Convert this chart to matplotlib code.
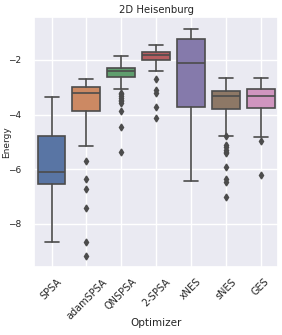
import matplotlib
matplotlib.use("Agg")
import matplotlib.pyplot as plt
import seaborn as sns

optimizers = ["SPSA", "adamSPSA", "QNSPSA", "2-SPSA", "xNES", "sNES", "GES"]

# box statistics
q1 = [-6.55, -3.87, -2.62, -2.01, -3.73, -3.79, -3.75]
med = [-6.10, -3.21, -2.41, -1.83, -2.12, -3.32, -3.31]
q3 = [-4.78, -2.99, -2.30, -1.72, -1.23, -3.14, -3.05]
whislo = [-8.68, -5.15, -3.07, -2.39, -6.43, -4.77, -4.81]
whishi = [-3.34, -2.68, -1.86, -1.46, -0.88, -2.66, -2.66]
fliers = [
    [],
    [-5.70, -6.36, -6.74, -7.42, -8.68, -9.18],
    [-3.20, -3.26, -3.32, -3.38, -3.45, -3.52, -3.59, -3.87, -4.44, -5.36],
    [-2.71, -3.10, -3.22, -3.71, -4.14],
    [],
    [-4.80, -5.12, -5.20, -5.28, -5.36, -5.42, -5.91, -6.36, -6.47, -7.03],
    [-4.98, -6.21],
]

sns.set_theme(style="darkgrid")
colors = [sns.desaturate(c, 0.75) for c in sns.color_palette("deep", 7)]
gray = "#4c4c4c"

stats = []
for i, name in enumerate(optimizers):
    stats.append(dict(label=name, med=med[i], q1=q1[i], q3=q3[i],
                      whislo=whislo[i], whishi=whishi[i], fliers=fliers[i]))

fig = plt.figure(figsize=(2.82, 3.35), dpi=100)
ax = fig.add_axes([0.121, 0.203, 0.865, 0.746])

bp = ax.bxp(stats, positions=range(len(optimizers)), widths=0.8, patch_artist=True,
            boxprops=dict(edgecolor=gray, linewidth=1.2),
            medianprops=dict(color=gray, linewidth=1.2),
            whiskerprops=dict(color=gray, linewidth=1.2),
            capprops=dict(color=gray, linewidth=1.2),
            flierprops=dict(marker="d", markerfacecolor=gray, markeredgecolor=gray,
                            markersize=3.5))
for patch, c in zip(bp["boxes"], colors):
    patch.set_facecolor(c)

ax.set_xlim(-0.5, 6.5)
ax.set_ylim(-9.58, -0.43)
ax.set_yticks([-8, -6, -4, -2])
ax.set_xticks(range(len(optimizers)))
ax.set_xticklabels(optimizers, rotation=45, fontsize=7)
ax.tick_params(axis="y", labelsize=6.5, pad=3)
ax.tick_params(axis="x", pad=1)
ax.set_xlabel("Optimizer", fontsize=7.5)
ax.set_ylabel("Energy", fontsize=6.5)
ax.xaxis.set_label_coords(0.5, -0.205)
ax.yaxis.set_label_coords(-0.095, 0.5)
ax.set_title("2D Heisenburg", fontsize=7.3, pad=3)

fig.savefig("out.png", dpi=100)
